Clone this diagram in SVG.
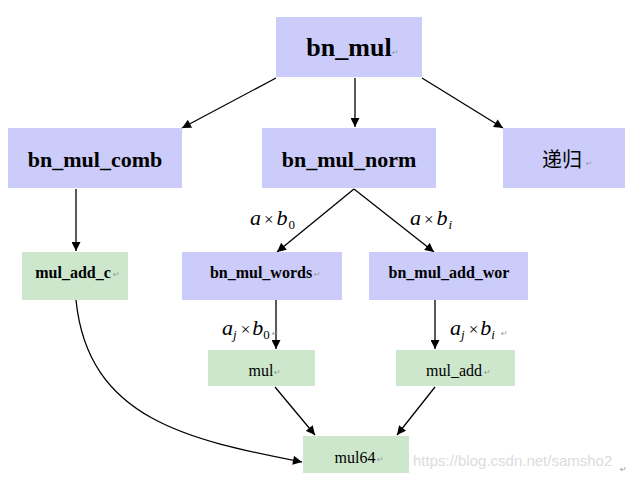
<svg xmlns="http://www.w3.org/2000/svg" width="630" height="481" viewBox="0 0 630 481">
<style>
.p{fill:#ccccfb}
.g{fill:#cce7cc}
.t{fill:#000;text-anchor:middle}
.b{font-weight:bold}
.m{font-style:italic;font-size:22px}
.x{font-size:17px}
.s{font-size:13px}
.si{font-style:italic;font-size:13px}
.r{font-size:8px;fill:#999}
.c path{fill:none;stroke:#000;stroke-width:1.3}
</style>
<defs>
<marker id="ah" viewBox="0 0 10 10" refX="10" refY="5" markerWidth="10" markerHeight="9" markerUnits="userSpaceOnUse" orient="auto">
<path d="M0,0 L10,5 L0,10 z" fill="#000"/>
</marker>
</defs>
<rect width="630" height="481" fill="#fff"/>
<g class="c">
<path d="M276,78 L182,128" marker-end="url(#ah)"/>
<path d="M355,78 L355,127" marker-end="url(#ah)"/>
<path d="M422,78 L503,128" marker-end="url(#ah)"/>
<path d="M76,189 L76,251" marker-end="url(#ah)"/>
<path d="M354,189 L277,252" marker-end="url(#ah)"/>
<path d="M354,189 L434,252" marker-end="url(#ah)"/>
<path d="M276,300 L276,349" marker-end="url(#ah)"/>
<path d="M435,300 L435,349" marker-end="url(#ah)"/>
<path d="M275,387 L315,435" marker-end="url(#ah)"/>
<path d="M435,387 L397,435" marker-end="url(#ah)"/>
<path d="M76,300 C88,420 190,440 302,462" marker-end="url(#ah)"/>
</g>
<g font-family="Liberation Serif, DejaVu Serif, serif">
<g id="bn_mul"><rect class="p" x="276" y="17" width="146" height="60"/><text class="t b" x="349" y="56" font-size="26" font-family="Liberation Serif, serif">bn_mul</text><text class="r" x="392" y="55" font-family="DejaVu Sans, sans-serif">↵</text></g>
<g id="bn_mul_comb"><rect class="p" x="8" y="128" width="174" height="60"/><text class="t b" x="95" y="167" font-size="22" font-family="Liberation Serif, serif">bn_mul_comb</text></g>
<g id="bn_mul_norm"><rect class="p" x="262" y="128" width="174" height="60"/><text class="t b" x="349" y="167" font-size="22" font-family="Liberation Serif, serif">bn_mul_norm</text></g>
<g id="recursion"><rect class="p" x="503" y="128" width="122" height="60"/><text x="562" y="167" font-size="20" text-anchor="middle" font-family="Noto Sans CJK SC, sans-serif">递归</text><text class="r" x="586" y="166" font-family="DejaVu Sans, sans-serif">↵</text></g>
<g id="mul_add_c"><rect class="g" x="22" y="252" width="106" height="48"/><text class="t b" x="73" y="278" font-size="16" font-family="Liberation Serif, serif">mul_add_c</text><text class="r" x="113" y="277" font-family="DejaVu Sans, sans-serif">↵</text></g>
<g id="bn_mul_words"><rect class="p" x="182" y="252" width="160" height="48"/><text class="t b" x="261" y="278" font-size="16" font-family="Liberation Serif, serif">bn_mul_words</text><text class="r" x="314" y="277" font-family="DejaVu Sans, sans-serif">↵</text></g>
<g id="bn_mul_add_wor"><rect class="p" x="369" y="252" width="159" height="48"/><text class="t b" x="449" y="278" font-size="16" font-family="Liberation Serif, serif">bn_mul_add_wor</text></g>
<g id="mul"><rect class="g" x="208" y="350" width="107" height="36"/><text class="t" x="261" y="376" font-size="16" font-family="Liberation Serif, serif">mul</text><text class="r" x="274" y="375" font-family="DejaVu Sans, sans-serif">↵</text></g>
<g id="mul_add"><rect class="g" x="396" y="350" width="119" height="36"/><text class="t" x="454" y="376" font-size="16" font-family="Liberation Serif, serif">mul_add</text><text class="r" x="484" y="375" font-family="DejaVu Sans, sans-serif">↵</text></g>
<g id="mul64"><rect class="g" x="303" y="436" width="106" height="37"/><text class="t" x="355" y="463" font-size="16" font-family="Liberation Serif, serif">mul64</text><text class="r" x="377" y="462" font-family="DejaVu Sans, sans-serif">↵</text></g>
<g id="labels" font-family="Liberation Serif, serif">
<text x="250" y="225"><tspan class="m">a</tspan><tspan class="x" dx="3">×</tspan><tspan class="m" dx="3">b</tspan><tspan class="s" dy="4" dx="1">0</tspan></text>
<text x="410" y="225"><tspan class="m">a</tspan><tspan class="x" dx="3">×</tspan><tspan class="m" dx="3">b</tspan><tspan class="si" dy="4" dx="1">i</tspan></text>
<text x="222" y="335"><tspan class="m">a</tspan><tspan class="si" dy="4">j</tspan><tspan class="x" dy="-4" dx="4">×</tspan><tspan class="m" dx="2">b</tspan><tspan class="s" dy="4">0</tspan></text>
<text class="r" x="272" y="336" font-family="DejaVu Sans, sans-serif">↵</text>
<text x="450" y="335"><tspan class="m">a</tspan><tspan class="si" dy="4">j</tspan><tspan class="x" dy="-4" dx="4">×</tspan><tspan class="m" dx="2">b</tspan><tspan class="si" dy="4">i</tspan></text>
<text class="r" x="501" y="336" font-family="DejaVu Sans, sans-serif">↵</text>
</g>
<text x="413" y="466" font-family="Liberation Sans, Arial, sans-serif" font-size="15" fill="#dcdcdc">https://blog.csdn.net/samsho2</text>
<text class="r" x="620" y="472" font-family="DejaVu Sans, sans-serif">↵</text>
</g>
</svg>
